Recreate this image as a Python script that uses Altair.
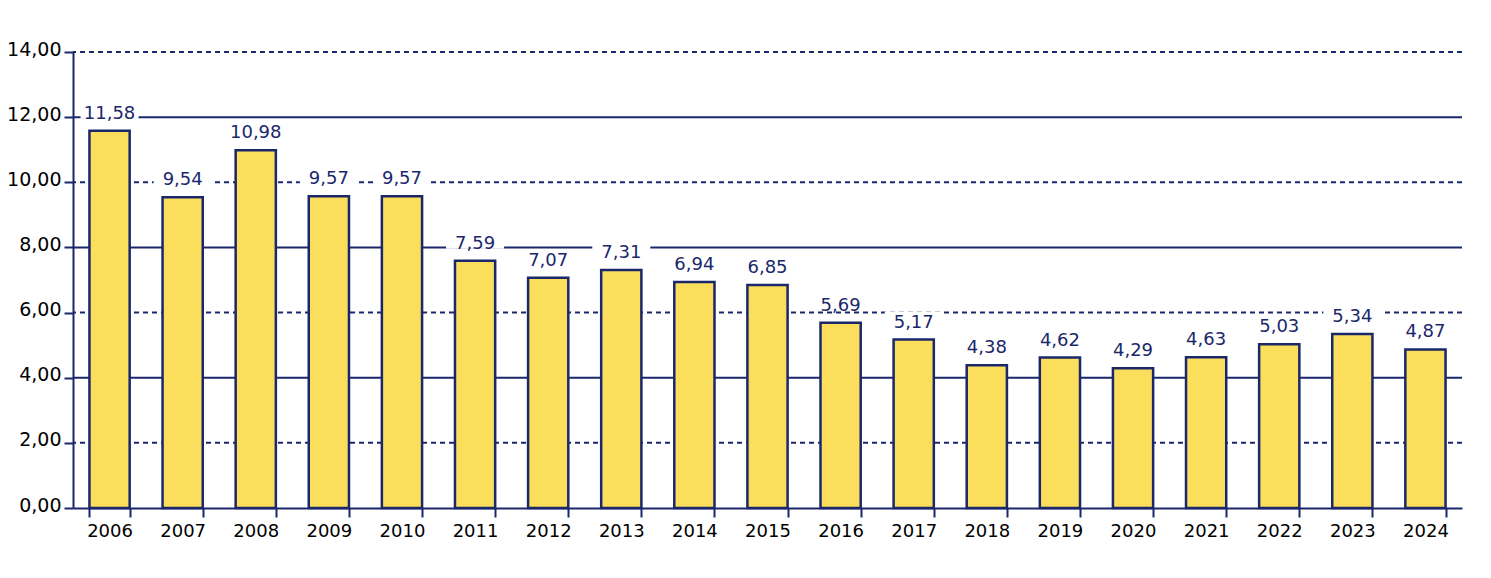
import altair as alt
import pandas as pd

years = ["2006", "2007", "2008", "2009", "2010", "2011", "2012", "2013", "2014", "2015",
         "2016", "2017", "2018", "2019", "2020", "2021", "2022", "2023", "2024"]
values = [11.58, 9.54, 10.98, 9.57, 9.57, 7.59, 7.07, 7.31, 6.94, 6.85,
          5.69, 5.17, 4.38, 4.62, 4.29, 4.63, 5.03, 5.34, 4.87]
grid_values = [2, 4, 6, 8, 10, 12, 14]
grid_styles = ["dashed", "solid", "dashed", "solid", "dashed", "solid", "dashed"]

NAVY = "#1B276B"
YELLOW = "#FBDF5C"
FONT = "DejaVu Sans"

df = pd.DataFrame({"year": years, "value": values})
gdf = pd.DataFrame({"g": grid_values, "style": grid_styles})

xscale = alt.Scale(domain=years, paddingInner=0.45, paddingOuter=0.225)
yscale = alt.Scale(domain=[0, 14], nice=False)

yaxis = alt.Axis(values=[0, 2, 4, 6, 8, 10, 12, 14], domainColor=NAVY, domainWidth=2,
                 tickColor=NAVY, tickWidth=2, tickSize=9, grid=False,
                 labelExpr="replace(format(datum.value, '.2f'), '.', ',')",
                 labelFont=FONT, labelFontSize=19, labelColor="black",
                 labelPadding=3, labelOffset=-3)

grid_dashed = alt.Chart(gdf).transform_filter("datum.style == 'dashed'").mark_rule(
    color=NAVY, strokeWidth=2, strokeDash=[5, 4]
).encode(y=alt.Y("g:Q", scale=yscale, axis=yaxis, title=None))

grid_solid = alt.Chart(gdf).transform_filter("datum.style == 'solid'").mark_rule(
    color=NAVY, strokeWidth=2
).encode(y=alt.Y("g:Q", scale=yscale, axis=yaxis, title=None))

bars = alt.Chart(df).mark_bar(
    fill=YELLOW, stroke=NAVY, strokeWidth=2.5
).encode(
    x=alt.X("year:N", scale=xscale, sort=years, title=None,
            axis=alt.Axis(domainColor=NAVY, domainWidth=2, tickColor=NAVY, tickWidth=2,
                          tickSize=9, bandPosition=0, tickBand="extent", labelAngle=0,
                          labelFont=FONT, labelFontSize=18, labelColor="black",
                          labelPadding=5, grid=False)),
    y=alt.Y("value:Q", scale=yscale, title=None, axis=yaxis),
)

label_base = alt.Chart(df).transform_calculate(
    lab="replace(format(datum.value, '.2f'), '.', ',')"
).encode(
    x=alt.X("year:N", scale=xscale, sort=years),
    y=alt.Y("value:Q", scale=yscale),
)

# white knockout box behind each value label
knockout = label_base.mark_point(
    shape="M-1,-0.276L1,-0.276L1,0.276L-1,0.276Z", size=3364,
    filled=True, fill="white", opacity=1, strokeWidth=0, yOffset=-20
)
labels = label_base.mark_text(
    font=FONT, fontSize=18, baseline="bottom", dy=-8, color=NAVY
).encode(text="lab:N")

chart = alt.layer(grid_dashed, grid_solid, bars, knockout, labels).properties(
    width=1389, height=456,
    autosize=alt.AutoSizeParams(type="none"),
    padding={"left": 65, "top": 44, "right": 20, "bottom": 60},
).configure_view(stroke=None)

chart.save("out.html", embed_options={"renderer": "svg", "actions": False})
